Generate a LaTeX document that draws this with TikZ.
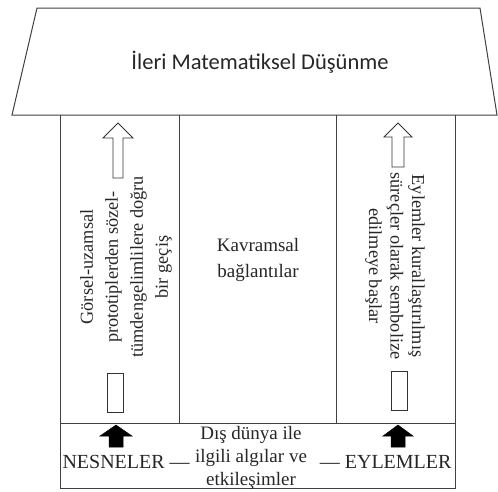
\documentclass[tikz,border=0pt]{standalone}
\usepackage{fontspec}
\setmainfont{Liberation Serif}
\newfontfamily\titlefont{Carlito}
\begin{document}
\begin{tikzpicture}[x=1pt,y=-1pt,line width=1pt,
    txt/.style={align=center,inner sep=0pt,text=black!85},
    hollow/.style={draw=black!80,fill=white,line width=0.9pt},
    filled/.style={fill=black,draw=black,line width=0.5pt}]
  \useasboundingbox (0,0) rectangle (498,491);
  % roof
  \draw[black!75] (37,8) -- (480,8) -- (497,115) -- (12,115) -- cycle;
  \node[txt,font=\titlefont\fontsize{22.5}{26}\selectfont] (T) at (260,62) {İleri Matematiksel Düşünme};
  % walls and floor
  \draw[black!75] (60,115) -- (60,488) -- (455,488) -- (455,115);
  \draw[black!75] (60,423) -- (455,423);
  \draw[black!75] (179,115) -- (179,423); \draw[black!75] (336,115) -- (336,423);
  % left column
  \draw[hollow] (118,123) -- (133,138) -- (123,138) -- (123,178) -- (113,178)
    -- (113,138) -- (103,138) -- cycle;
  \draw[hollow] (107,373) rectangle (123,412);
  \node[txt,rotate=90,font=\fontsize{18.3}{25}\selectfont] (G) at (126,267)
    {Görsel-uzamsal\\prototiplerden sözel-\\tümdengelimlilere doğru\\bir geçiş};
  % middle column
  \node[txt,font=\fontsize{19}{26}\selectfont] (K) at (258,260) {Kavramsal\\bağlantılar};
  % right column
  \draw[hollow] (398,123) -- (412,137) -- (404,137) -- (404,167) -- (392,167)
    -- (392,137) -- (384,137) -- cycle;
  \draw[hollow] (391,371) rectangle (407,410);
  \node[txt,rotate=-90,font=\fontsize{18.3}{21.5}\selectfont] (S) at (395,266)
    {Eylemler kurallaştırılmış\\süreçler olarak sembolize\\edilmeye başlar};
  % floor
  \draw[filled] (116,425) -- (132,436) -- (123,436) -- (123,447) -- (109,447)
    -- (109,436) -- (100,436) -- cycle;
  \draw[filled] (398,425) -- (413,436) -- (405,436) -- (405,447) -- (391,447)
    -- (391,436) -- (383,436) -- cycle;
  \node[txt,font=\fontsize{19}{23}\selectfont] (D) at (251,458)
    {Dış dünya ile\\ilgili algılar ve\\etkileşimler};
  \node[txt,anchor=west,font=\fontsize{20}{24}\selectfont] (N) at (62,462) {NESNELER —};
  \node[txt,anchor=east,font=\fontsize{20}{24}\selectfont] (E) at (452,462) {— EYLEMLER};
\end{tikzpicture}
\end{document}
